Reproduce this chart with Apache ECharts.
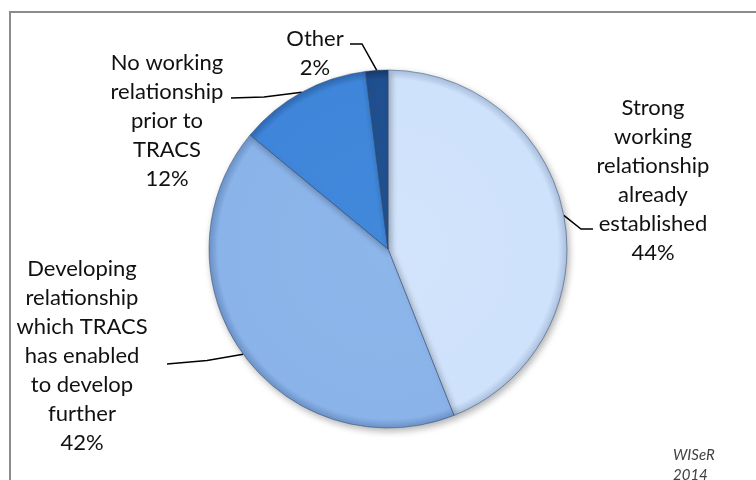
<!DOCTYPE html>
<html>
<head>
<meta charset="utf-8">
<script src="https://cdn.jsdelivr.net/npm/echarts@6/dist/echarts.min.js"></script>
<style>
html,body{margin:0;padding:0;background:#fff;}
#c{width:756px;height:480px;}
</style>
</head>
<body>
<div id="c"></div>
<script>
const categories = [
  'Strong\nworking\nrelationship\nalready\nestablished',
  'Developing\nrelationship\nwhich TRACS\nhas enabled\nto develop\nfurther',
  'No working\nrelationship\nprior to\nTRACS',
  'Other'
];
const values = [44, 42, 12, 2];

// label placement (layout only)
const labelPos = [
  {x: 653, y: 180, line: [[581, 229], [593, 229]]},
  {x: 82,  y: 356, line: [[207, 360.5], [167, 364]]},
  {x: 167, y: 121, line: [[264, 97], [231, 98]]},
  {x: 315, y: 53,  line: [[362, 44], [350, 44]]}
];

const colors = [
  {c0: '#d2e4fb', c1: '#cfe2fb', c2: '#a9c0de'},
  {c0: '#8db6eb', c1: '#8ab3e9', c2: '#6c93c8'},
  {c0: '#4289dc', c1: '#3f86da', c2: '#2e68b0'},
  {c0: '#22538f', c1: '#1f4f8f', c2: '#163a6a'}
];

const CX = 388, CY = 249, R = 179;

const chart = echarts.init(document.getElementById('c'));
chart.setOption({
  animation: false,
  backgroundColor: '#fff',
  graphic: [
    {type: 'rect', shape: {x: 10, y: 12, width: 760, height: 480},
     style: {fill: 'none', stroke: '#8c8c8c', lineWidth: 2}, z: 0},
    {type: 'text', left: 673, top: 445,
     style: {text: 'WISeR\n2014', font: 'italic 15px Lato', fill: '#404040', lineHeight: 20,
       shadowColor: 'rgba(0,0,0,0.4)', shadowBlur: 6, shadowOffsetX: 2, shadowOffsetY: 3}}
  ],
  series: [{
    type: 'pie',
    center: [CX, CY],
    radius: R,
    startAngle: 90,
    clockwise: true,
    data: categories.map((n, i) => ({
      name: n, value: values[i],
      itemStyle: {
        color: {type: 'radial', x: CX, y: CY, r: R, global: true, colorStops: [
          {offset: 0, color: colors[i].c0},
          {offset: 0.95, color: colors[i].c1},
          {offset: 1, color: colors[i].c2}
        ]}
      }
    })),
    itemStyle: {
      borderColor: 'rgba(40,60,100,0.45)', borderWidth: 1,
      shadowColor: 'rgba(0,0,0,0.3)', shadowBlur: 7, shadowOffsetX: 2, shadowOffsetY: 3
    },
    label: {
      show: true,
      formatter: p => p.name + '\n' + p.value + '%',
      fontFamily: 'Lato', fontSize: 22, lineHeight: 29, color: '#111',
      align: 'center'
    },
    labelLine: {show: true, lineStyle: {color: '#000', width: 1.5}, smooth: false},
    labelLayout: function (params) {
      const lp = labelPos[params.dataIndex];
      const start = params.labelLinePoints ? params.labelLinePoints[0] : lp.line[0];
      return {
        x: lp.x, y: lp.y, align: 'center', verticalAlign: 'middle',
        labelLinePoints: [start, lp.line[0], lp.line[1]]
      };
    },
    emphasis: {disabled: true}
  }]
});
</script>
</body>
</html>
